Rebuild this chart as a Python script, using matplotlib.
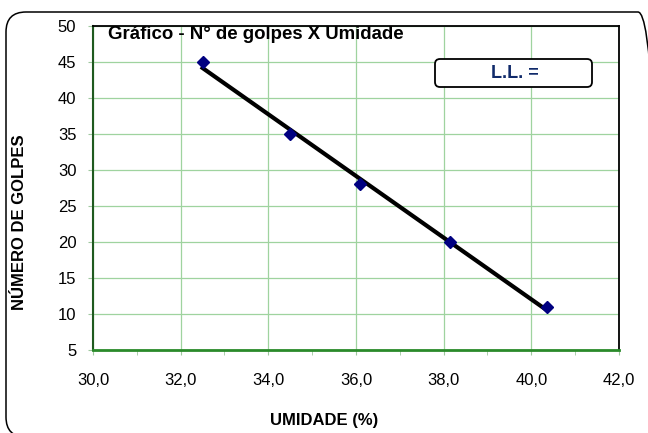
import numpy as np
import matplotlib
matplotlib.use("Agg")
import matplotlib.pyplot as plt
from matplotlib.patches import FancyBboxPatch
from matplotlib.ticker import MultipleLocator, FuncFormatter

umidade = [32.5, 34.5, 36.1, 38.15, 40.35]
golpes = [45, 35, 28, 20, 11]
xticks = [30, 32, 34, 36, 38, 40, 42]
yticks = [5, 10, 15, 20, 25, 30, 35, 40, 45, 50]

plt.rcParams['font.family'] = ['Liberation Sans', 'DejaVu Sans']

W, H = 648, 433
fig = plt.figure(figsize=(W / 100, H / 100), dpi=100)

def fx(px):
    return px / W

def fy(py):
    return 1 - py / H

# outer rounded border in pixel coordinates (right and bottom run off the figure)
border = FancyBboxPatch((6, -4), 652, (H - 12) + 4,
                        boxstyle="round,pad=0,rounding_size=20",
                        transform=None, fill=False,
                        edgecolor='black', linewidth=1.1, clip_on=False)
fig.patches.append(border)

ax = fig.add_axes([fx(93), fy(350), fx(619) - fx(93), fy(26) - fy(350)])
ax.set_xlim(30, 42)
ax.set_ylim(5, 50)
ax.set_xticks(xticks)
ax.set_yticks(yticks)
ax.xaxis.set_minor_locator(MultipleLocator(1))
ax.xaxis.set_major_formatter(FuncFormatter(lambda v, p: f"{v:.1f}".replace('.', ',')))
ax.grid(True, which='major', color='#9fd39f', linewidth=0.9)
ax.set_axisbelow(True)
ax.tick_params(axis='both', which='both', direction='out', length=3.5,
               color='#9fc89f', labelsize=12)
ax.tick_params(axis='y', pad=8.5)
ax.tick_params(axis='x', which='major', pad=13)
for s in ['top', 'right']:
    ax.spines[s].set_color('black')
    ax.spines[s].set_linewidth(1.3)
ax.spines['left'].set_color('#1f5a1f')
ax.spines['left'].set_linewidth(1.5)
ax.spines['bottom'].set_color('#2a8a2a')
ax.spines['bottom'].set_linewidth(2.0)

# linear trendline from the data
coef = np.polyfit(umidade, golpes, 1)
xl = np.array([min(umidade), max(umidade)])
ax.plot(xl, np.polyval(coef, xl), color='black', linewidth=3.0, zorder=3)
ax.plot(umidade, golpes, linestyle='none', marker='D', markersize=6.5,
        color='#000080', zorder=4)

fig.text(fx(108), fy(39), "Gráfico - N° de golpes X Umidade",
         fontsize=13.4, fontweight='bold', va='baseline', ha='left')

# L.L. box in pixel coordinates
llbox = FancyBboxPatch((435, H - 87), 592 - 435, 87 - 59,
                       boxstyle="round,pad=0,rounding_size=5",
                       transform=None, facecolor='white',
                       edgecolor='black', linewidth=1.3, zorder=5)
fig.patches.append(llbox)
fig.text(fx(515), fy(74), "L.L. =", color='#102a6a', fontsize=13,
         fontweight='bold', ha='center', va='center', zorder=6)

fig.text(fx(324.5), fy(421), "UMIDADE (%)", fontsize=12, fontweight='bold',
         ha='center', va='center')
fig.text(fx(20), fy(222), "NÚMERO DE GOLPES", fontsize=12, fontweight='bold',
         ha='center', va='center', rotation=90)

fig.savefig("out.png", dpi=100)
